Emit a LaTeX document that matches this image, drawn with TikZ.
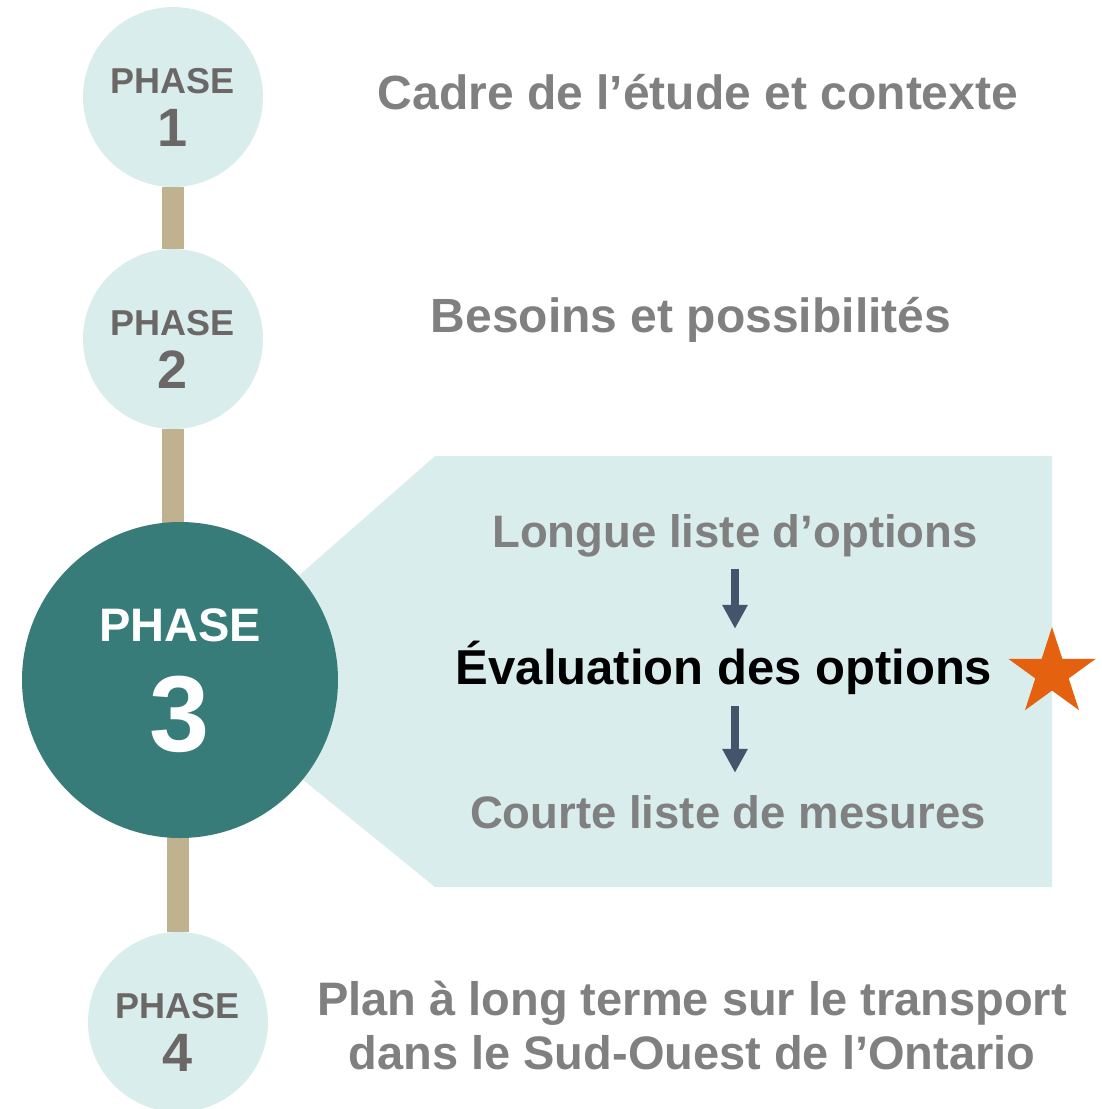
\documentclass[tikz,border=0pt]{standalone}
\usepackage{fontspec}
\setmainfont{Liberation Sans}
\usepackage{tikz}
\usetikzlibrary{positioning,shapes.geometric,arrows.meta,backgrounds}

\definecolor{phaselight}{HTML}{D9EEEC}
\definecolor{phasedark}{HTML}{377C78}
\definecolor{phasebar}{HTML}{C0B28F}
\definecolor{phasegrey}{HTML}{6C6767}
\definecolor{labelgrey}{HTML}{808080}
\definecolor{flowblue}{HTML}{44546A}
\definecolor{starorange}{HTML}{E4620F}

\begin{document}
\begin{tikzpicture}[x=1pt,y=1pt,yscale=-1,xscale=1,
    phase/.style={circle,fill=phaselight,text=phasegrey,minimum size=180pt,inner sep=0pt,
        align=center,font=\bfseries\fontsize{36}{53}\selectfont,text height=98pt,text depth=0pt},
    bigphase/.style={circle,fill=phasedark,text=white,minimum size=316pt,inner sep=0pt,
        align=center,font=\bfseries\fontsize{47}{110}\selectfont,text height=142pt,text depth=0pt},
    bar/.style={draw=phasebar,line width=22pt},
    txt/.style={anchor=base,inner sep=0pt,text=labelgrey,font=\bfseries\fontsize{45.5}{54}\selectfont,
        text height=33pt,text depth=9pt},
    txtbig/.style={txt,font=\bfseries\fontsize{48}{54}\selectfont},
    txtwide/.style={inner sep=0pt,text=labelgrey,align=center,font=\bfseries\fontsize{47}{54}\selectfont},
    flow/.style={draw=flowblue,line width=7.5pt,-{Triangle[width=24pt,length=24pt]},
        shorten <=13pt,shorten >=22pt}
    ]
        \useasboundingbox (0,0) rectangle (1102,1109);

        %Shape: Circle
        \node[phase] (p1) at (173,97) {PHASE\\{\fontsize{54}{53}\selectfont 1}};
        %Shape: Circle
        \node[phase] (p2) at (173,339) {PHASE\\{\fontsize{54}{53}\selectfont 2}};
        %Shape: Circle
        \node[bigphase] (p3) at (180,680) {PHASE\\{\fontsize{108}{110}\selectfont 3}};
        %Shape: Circle
        \node[phase] (p4) at (178,1022) {PHASE\\{\fontsize{54}{53}\selectfont 4}};

        \begin{pgfonlayer}{background}
        %Shape: Callout
        \fill[phaselight] (p3.center) -- (435,456) -- (1052,456) -- (1052,887) -- (435,887) -- cycle;
        %Straight Lines
        \draw[bar] (p1) -- (p2);
        \draw[bar] (p2) -- (p2 |- p3);
        \draw[bar] (p4 |- p3) -- (p4);
        \end{pgfonlayer}

        % Text Node
        \node[txtbig] (cadre) at (698,109) {Cadre de l’étude et contexte};
        % Text Node
        \node[txtbig] (besoins) at (691,332) {Besoins et possibilités};
        % Text Node
        \node[txt] (longue) at (735,547) {Longue liste d’options};
        % Text Node
        \node[txt,text=black,font=\bfseries\fontsize{49}{54}\selectfont] (eval) at (724,684) {Évaluation des options};
        % Text Node
        \node[txt] (courte) at (728,828) {Courte liste de mesures};
        % Text Node
        \node[txtwide] (plan) at (692,1025) {Plan à long terme sur le transport\\dans le Sud-Ouest de l’Ontario};

        %Shape: Star
        \node[star,star points=5,star point ratio=2.618,fill=starorange,minimum size=92pt,inner sep=0pt] (flag) at (1052,673) {};

        %Arrows
        \draw[flow] (longue.south) -- (longue.south |- eval.north);
        \draw[flow] (longue.south |- eval.south) -- (longue.south |- courte.north);
\end{tikzpicture}
\end{document}
